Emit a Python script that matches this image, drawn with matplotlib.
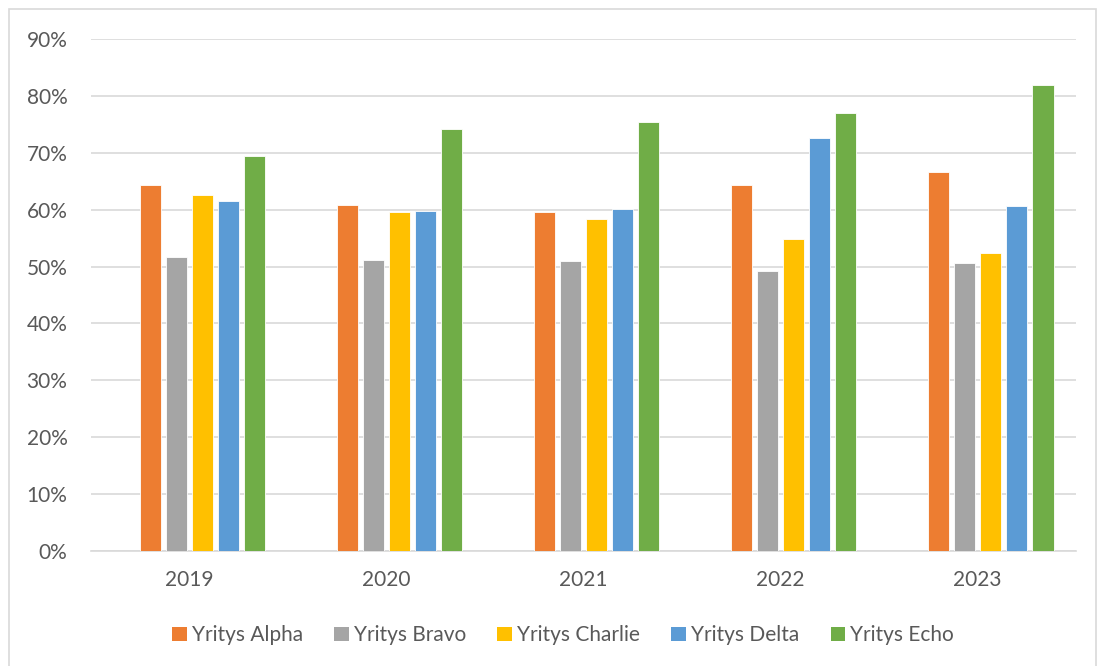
import numpy as np
import matplotlib
matplotlib.use("Agg")
import matplotlib.pyplot as plt
from matplotlib.patches import Patch, Rectangle
from matplotlib.ticker import PercentFormatter

# data
years = ["2019", "2020", "2021", "2022", "2023"]
companies = ["Yritys Alpha", "Yritys Bravo", "Yritys Charlie", "Yritys Delta", "Yritys Echo"]
alpha = [64.4, 60.8, 59.6, 64.4, 66.6]
bravo = [51.6, 51.1, 50.9, 49.3, 50.6]
charlie = [62.5, 59.6, 58.4, 54.8, 52.3]
delta = [61.6, 59.8, 60.1, 72.6, 60.6]
echo = [69.4, 74.1, 75.4, 77.0, 82.0]
colours = ["#ED7D31", "#A5A5A5", "#FFC000", "#5B9BD5", "#70AD47"]

series = [alpha, bravo, charlie, delta, echo]

plt.rcParams['font.family'] = ['Lato', 'DejaVu Sans']

fig = plt.figure(figsize=(11.02, 6.66), dpi=100)
ax = fig.add_axes([0.0826, 0.1727, 0.8940, 0.7687])

# outer chart border (bottom edge runs off the canvas)
fig.patches.append(Rectangle((9 / 1102, -5 / 666), 1087 / 1102, 662 / 666,
                             transform=fig.transFigure, fill=False,
                             edgecolor="#D9D9D9", linewidth=1.2))

x = np.arange(len(years))
pitch = 0.1325
width = 0.107
for i, (vals, col) in enumerate(zip(series, colours)):
    # cluster sits a half slot right of the category centre
    offs = (i - 1.5) * pitch
    ax.bar(x + offs, np.array(vals) / 100, width=width, color=col,
           edgecolor="white", linewidth=0.6, zorder=3)

ax.set_xlim(-0.5, len(years) - 0.5)
ax.set_ylim(0, 0.9)
ax.set_yticks(np.arange(0, 0.91, 0.1))
ax.yaxis.set_major_formatter(PercentFormatter(1.0, decimals=0))
ax.set_xticks(x)
ax.set_xticklabels(years)

ax.grid(axis="y", color="#D9D9D9", linewidth=1.2, zorder=0)
for s in ["top", "right", "left"]:
    ax.spines[s].set_visible(False)
ax.spines["bottom"].set_color("#D9D9D9")
ax.spines["bottom"].set_linewidth(1.2)
ax.tick_params(axis="both", length=0, labelsize=15, colors="#595959")
ax.tick_params(axis="y", pad=17)
ax.tick_params(axis="x", pad=14)

handles = [Patch(facecolor=c, edgecolor="none") for c in colours]
fig.legend(handles, companies, loc="center", ncol=5,
           bbox_to_anchor=(0.511, 0.046), frameon=False, fontsize=15,
           handlelength=0.7, handleheight=0.7, handletextpad=0.25,
           columnspacing=1.5, labelcolor="#595959")

plt.savefig("out.png", dpi=100)
